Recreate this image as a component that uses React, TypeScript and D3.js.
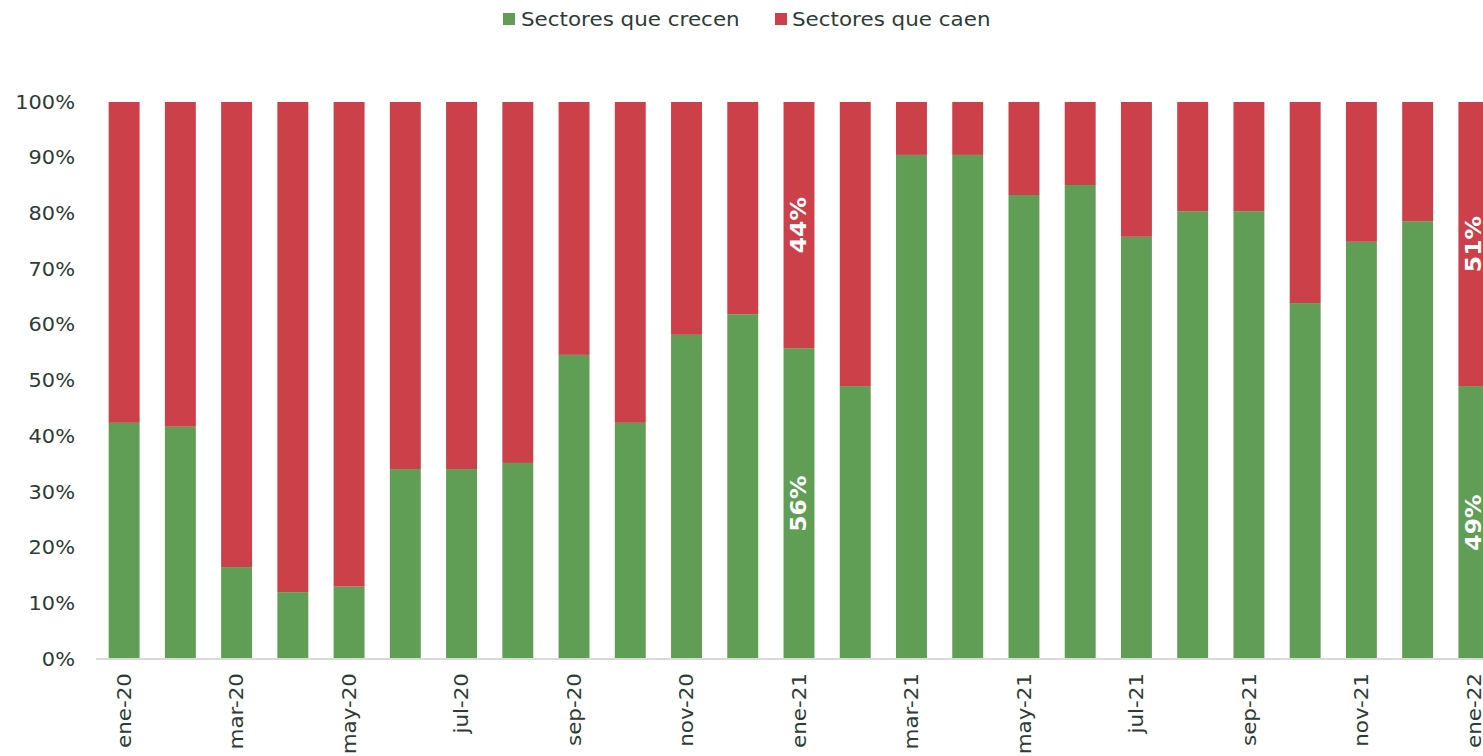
import React from "react";
import * as d3 from "d3";

const months = ["ene-20","feb-20","mar-20","abr-20","may-20","jun-20","jul-20","ago-20","sep-20","oct-20","nov-20","dic-20","ene-21","feb-21","mar-21","abr-21","may-21","jun-21","jul-21","ago-21","sep-21","oct-21","nov-21","dic-21","ene-22"];
const crecen = [42.4,41.7,16.5,12.0,13.0,34.1,34.1,35.2,54.6,42.4,58.2,61.9,55.8,49.0,90.5,90.5,83.3,85.1,75.8,80.4,80.4,63.9,74.9,78.6,49.0];
const caen = crecen.map(v => 100 - v);
const labeledMonths = ["ene-21","ene-22"];
const yTicks = [0,10,20,30,40,50,60,70,80,90,100];
const seriesNames = ["Sectores que crecen","Sectores que caen"];
const colors = ["#609E56","#CC404A"];

const W = 1483, H = 756;
const FONT = "'DejaVu Sans', Verdana, sans-serif";
const TXT = "#2E3B36";
const SX = 1.1;

export default function App() {
  const x = d3.scaleBand<string>().domain(months).range([96, 1502]).paddingInner(0.45).paddingOuter(0.225);
  const y = d3.scaleLinear().domain([0, 100]).range([659, 102]);
  const bw = x.bandwidth();
  return (
    <svg width={W} height={H} style={{ position: "absolute", left: 0, top: 0, display: "block" }} fontFamily={FONT}>
      {/* legend */}
      <g>
        <rect x={503} y={13} width={12} height={12} fill={colors[0]} />
        <text transform={`translate(521,26) scale(${SX},1)`} fontSize={19.5} fill={TXT}>{seriesNames[0]}</text>
        <rect x={775} y={13} width={12} height={12} fill={colors[1]} />
        <text transform={`translate(792,26) scale(${SX},1)`} fontSize={19.5} fill={TXT}>{seriesNames[1]}</text>
      </g>
      {/* y ticks */}
      {yTicks.map(t => (
        <text key={t} transform={`translate(75,${y(t)}) scale(${SX},1)`} dy="0.35em" textAnchor="end" fontSize={19} fill={TXT}>{t}%</text>
      ))}
      {/* bars */}
      {months.map((m, i) => {
        const x0 = x(m)!;
        return (
          <g key={m}>
            <rect x={x0} y={y(crecen[i])} width={bw} height={y(0) - y(crecen[i])} fill={colors[0]} />
            <rect x={x0} y={y(100)} width={bw} height={y(crecen[i]) - y(100)} fill={colors[1]} />
          </g>
        );
      })}
      {/* data labels */}
      {months.map((m, i) => {
        if (!labeledMonths.includes(m)) return null;
        const cx = x(m)! + bw / 2;
        const gy = (y(0) + y(crecen[i])) / 2;
        const ry = (y(crecen[i]) + y(100)) / 2;
        return (
          <g key={"l" + m} fill="#fff" fontWeight="bold" fontSize={21}>
            <text transform={`translate(${cx},${gy}) rotate(-90) scale(1.12,1)`} textAnchor="middle" dy="0.35em">{Math.round(crecen[i])}%</text>
            <text transform={`translate(${cx},${ry}) rotate(-90) scale(1.12,1)`} textAnchor="middle" dy="0.35em">{Math.round(caen[i])}%</text>
          </g>
        );
      })}
      {/* axis line */}
      <line x1={96} x2={W} y1={y(0)} y2={y(0)} stroke="#D9D9D9" strokeWidth={2} />
      {/* x labels */}
      {months.map((m, i) => i % 2 === 0 ? (
        <text key={"x" + m} transform={`translate(${x(m)! + bw / 2},${673}) rotate(-90) scale(${SX},1)`} textAnchor="end" dy="0.35em" fontSize={19.5} fill={TXT}>{m}</text>
      ) : null)}
    </svg>
  );
}
